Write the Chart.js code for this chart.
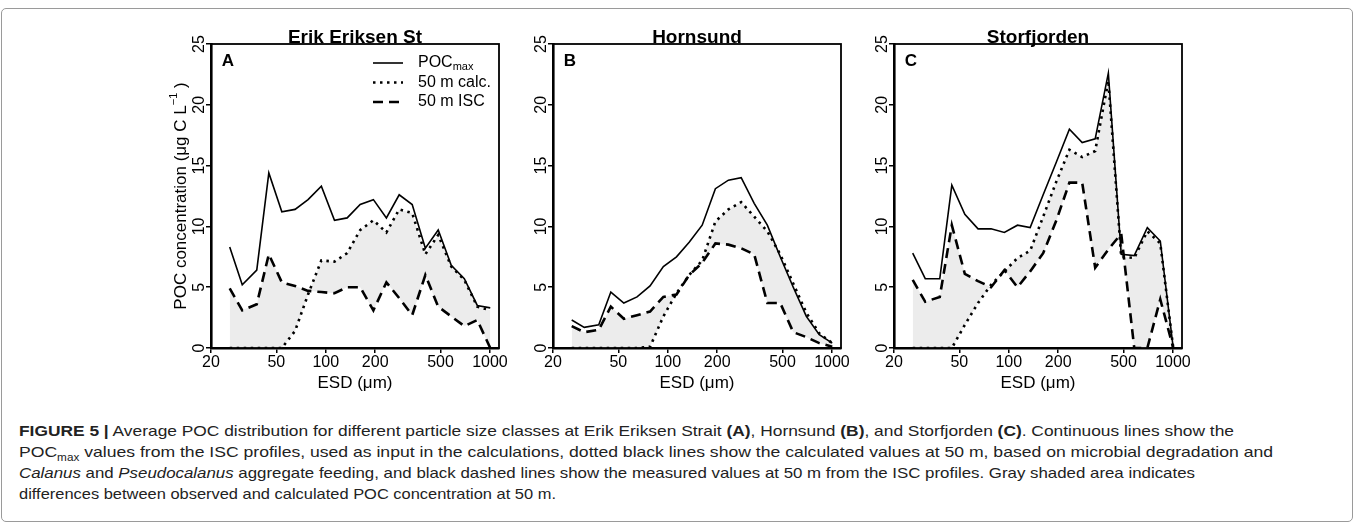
<!DOCTYPE html>
<html>
<head>
<meta charset="utf-8">
<script src="https://cdn.jsdelivr.net/npm/chart.js@4"></script>
<style>
  body { margin: 0; background: #fff; font-family: "Liberation Sans", Arial, sans-serif; }
  #page { position: relative; width: 1357px; height: 527px; overflow: hidden; }
  #frame { position: absolute; left: 1px; top: 8px; width: 1350px; height: 512px; border: 1px solid #9a9a9a; border-radius: 5px; }
  .panel { position: absolute; top: 0; width: 378px; height: 400px; }
  .cap { position: absolute; left: 19px; white-space: nowrap; font-size: 15px; line-height: 21px; color: #222; transform-origin: 0 50%; }
</style>
</head>
<body>
<div id="page">
  <div id="frame"></div>
  <div class="panel" style="left:141px"><canvas id="chartA" width="378" height="400"></canvas></div>
  <div class="panel" style="left:483px"><canvas id="chartB" width="378" height="400"></canvas></div>
  <div class="panel" style="left:824px"><canvas id="chartC" width="378" height="400"></canvas></div>
  <div class="cap" id="cap1" style="top:420px"><b>FIGURE 5 |</b> Average POC distribution for different particle size classes at Erik Eriksen Strait <b>(A)</b>, Hornsund <b>(B)</b>, and Storfjorden <b>(C)</b>. Continuous lines show the</div>
  <div class="cap" id="cap2" style="top:441px">POC<sub style="font-size:10px">max</sub> values from the ISC profiles, used as input in the calculations, dotted black lines show the calculated values at 50 m, based on microbial degradation and</div>
  <div class="cap" id="cap3" style="top:462px"><i>Calanus</i> and <i>Pseudocalanus</i> aggregate feeding, and black dashed lines show the measured values at 50 m from the ISC profiles. Gray shaded area indicates</div>
  <div class="cap" id="cap4" style="top:483px">differences between observed and calculated POC concentration at 50 m.</div>
</div>
<script>
// particle size classes (ESD, um)
const esd = [26, 31, 38, 45, 54, 65, 78, 94, 113, 135, 162, 195, 234, 280, 336, 404, 484, 581, 698, 837, 1004];
const xTicks = [20, 50, 100, 200, 500, 1000];
const yTicks = [0, 5, 10, 15, 20, 25];

// Erik Eriksen St
const pocMaxA = [8.3, 5.2, 6.4, 14.4, 11.2, 11.4, 12.2, 13.3, 10.5, 10.7, 11.8, 12.2, 10.7, 12.6, 11.8, 8.2, 9.7, 6.8, 5.7, 3.5, 3.3];
const calcA   = [0, 0, 0, 0, 0, 1.4, 4.4, 7.2, 7.1, 7.8, 9.7, 10.5, 9.5, 11.4, 11.1, 7.7, 9.3, 6.7, 5.6, 3.4, 3.1];
const iscA    = [4.9, 3.1, 3.6, 7.7, 5.4, 5.1, 4.7, 4.6, 4.5, 5.0, 5.0, 3.1, 5.4, 4.1, 2.7, 6.0, 3.4, 2.6, 1.8, 2.3, 0];

// Hornsund
const pocMaxB = [2.3, 1.7, 1.9, 4.6, 3.7, 4.2, 5.1, 6.7, 7.5, 8.7, 10.1, 13.1, 13.8, 14.0, 11.9, 10.1, 7.5, 5.0, 2.6, 1.1, 0.4];
const calcB   = [0, 0, 0, 0, 0, 0, 0.1, 2.6, 4.5, 6.0, 7.2, 10.4, 11.4, 12.0, 10.8, 9.6, 7.7, 5.3, 2.9, 1.2, 0.4];
const iscB    = [1.8, 1.3, 1.5, 3.4, 2.4, 2.7, 3.0, 4.2, 4.4, 6.0, 7.0, 8.6, 8.5, 8.2, 7.7, 3.7, 3.7, 1.3, 0.9, 0.4, 0.1];

// Storfjorden
const pocMaxC = [7.8, 5.7, 5.7, 13.4, 11.0, 9.8, 9.8, 9.5, 10.1, 9.9, 12.6, 15.3, 18.0, 16.9, 17.2, 22.6, 7.7, 7.6, 9.9, 8.8, 0];
const calcC   = [0, 0, 0, 0, 1.9, 3.7, 5.2, 6.3, 7.4, 8.0, 10.8, 13.7, 16.3, 15.7, 16.2, 22.0, 7.5, 7.4, 9.6, 8.6, 0];
const iscC    = [5.6, 3.8, 4.2, 10.1, 6.1, 5.5, 5.0, 6.4, 5.0, 6.3, 7.8, 10.5, 13.6, 13.6, 6.6, 8.1, 9.4, 0, 0, 4.0, 0];

const seriesLabels = ["POCmax", "50 m calc.", "50 m ISC"];

const FONT = '"Liberation Sans", Arial, sans-serif';
const pts = (ys) => esd.map((x, i) => ({ x: x, y: ys[i] }));

const decorPlugin = {
  id: "decor",
  afterDraw(chart) {
    const o = chart.options.plugins.decor;
    const ctx = chart.ctx;
    const a = chart.chartArea;
    const ys = chart.scales.y;
    ctx.save();
    ctx.fillStyle = "#000";
    ctx.strokeStyle = "#000";

    // box
    ctx.lineWidth = 1.8;
    ctx.strokeRect(a.left, a.top, a.right - a.left, a.bottom - a.top);

    // y tick labels, R style
    ctx.font = "16px " + FONT;
    ctx.textAlign = "center";
    ctx.textBaseline = "middle";
    ys.ticks.forEach(t => {
      const py = ys.getPixelForValue(t.value);
      ctx.save();
      ctx.translate(a.left - 12, py);
      ctx.rotate(-Math.PI / 2);
      ctx.fillText(String(t.value), 0, 1);
      ctx.restore();
    });

    // title and panel letter
    ctx.font = "bold 19px " + FONT;
    ctx.textBaseline = "alphabetic";
    ctx.fillText(o.title, (a.left + a.right) / 2, a.top - 1);
    ctx.font = "bold 17px " + FONT;
    ctx.textBaseline = "middle";
    ctx.fillText(o.letter, a.left + 17, a.top + 17);

    // x axis title
    ctx.font = "17px " + FONT;
    ctx.fillText("ESD (\u03bcm)", (a.left + a.right) / 2, a.bottom + 35);

    if (o.yTitle) {
      ctx.save();
      ctx.translate(a.left - 31, (a.top + a.bottom) / 2);
      ctx.rotate(-Math.PI / 2);
      const p1 = "POC concentration (\u03bcg C L", p2 = "\u22121", p3 = " )";
      ctx.font = "17px " + FONT;
      const w1 = ctx.measureText(p1).width, w3 = ctx.measureText(p3).width;
      ctx.font = "11px " + FONT;
      const w2 = ctx.measureText(p2).width;
      let x = -(w1 + w2 + w3) / 2;
      ctx.textAlign = "left";
      ctx.font = "17px " + FONT;
      ctx.fillText(p1, x, 1);
      x += w1;
      ctx.font = "11px " + FONT;
      ctx.fillText(p2, x, -6);
      x += w2;
      ctx.font = "17px " + FONT;
      ctx.fillText(p3, x, 1);
      ctx.restore();
    }

    if (o.legend) {
      ctx.textAlign = "left";
      chart.data.datasets.forEach((ds, i) => {
        const y = a.top + 19 + i * 19.5;
        ctx.beginPath();
        ctx.lineWidth = ds.borderWidth;
        ctx.setLineDash(ds.borderDash || []);
        ctx.moveTo(a.left + 162, y);
        ctx.lineTo(a.left + 192, y);
        ctx.stroke();
        ctx.setLineDash([]);
        ctx.font = "16px " + FONT;
        if (ds.label === "POCmax") {
          ctx.fillText("POC", a.left + 207, y);
          const w = ctx.measureText("POC").width;
          ctx.font = "11px " + FONT;
          ctx.fillText("max", a.left + 207 + w, y + 4);
        } else {
          ctx.fillText(ds.label, a.left + 207, y);
        }
      });
    }
    ctx.restore();
  }
};

function makePanel(id, title, letter, maxVals, calcVals, iscVals, showLegend, showYTitle) {
  return new Chart(document.getElementById(id), {
    type: "line",
    data: {
      datasets: [
        { label: seriesLabels[0], data: pts(maxVals), borderColor: "#000", borderWidth: 1.6, fill: false },
        { label: seriesLabels[1], data: pts(calcVals), borderColor: "#000", borderWidth: 2.6, borderDash: [2.5, 4.5], fill: false },
        { label: seriesLabels[2], data: pts(iscVals), borderColor: "#000", borderWidth: 2.6, borderDash: [10, 6],
          fill: { target: 1 }, backgroundColor: "#ececec" }
      ]
    },
    options: {
      responsive: false,
      animation: false,
      events: [],
      layout: { padding: { left: 0, top: 44, right: 20, bottom: 0 } },
      elements: { point: { radius: 0 }, line: { tension: 0 } },
      scales: {
        x: {
          type: "logarithmic",
          min: 20,
          max: 1135,
          afterBuildTicks: s => { s.ticks = xTicks.map(v => ({ value: v })); },
          afterFit: s => { s.height = 52; },
          ticks: { callback: v => String(v), color: "#000", font: { size: 16, family: FONT }, padding: 0, maxRotation: 0, autoSkip: false },
          grid: { drawOnChartArea: false, drawTicks: true, tickLength: 5, color: "#000", lineWidth: 1.5 },
          border: { display: true, color: "#000", width: 2.6 }
        },
        y: {
          min: 0,
          max: 25,
          afterBuildTicks: s => { s.ticks = yTicks.map(v => ({ value: v })); },
          afterFit: s => { s.width = 70; },
          ticks: { display: false },
          grid: { drawOnChartArea: false, drawTicks: true, tickLength: 5, color: "#000", lineWidth: 1.5 },
          border: { display: true, color: "#000", width: 2.6 }
        }
      },
      plugins: {
        legend: { display: false },
        tooltip: { enabled: false },
        decor: { title: title, letter: letter, legend: showLegend, yTitle: showYTitle }
      }
    },
    plugins: [decorPlugin]
  });
}

makePanel("chartA", "Erik Eriksen St", "A", pocMaxA, calcA, iscA, true, true);
makePanel("chartB", "Hornsund", "B", pocMaxB, calcB, iscB, false, false);
makePanel("chartC", "Storfjorden", "C", pocMaxC, calcC, iscC, false, false);

// fit caption lines to the measured widths
const capWidths = { cap1: 1215, cap2: 1254, cap3: 1176, cap4: 537 };
["cap1", "cap2", "cap3", "cap4"].forEach(id => {
  const el = document.getElementById(id);
  const w = el.getBoundingClientRect().width;
  el.style.transform = "scaleX(" + (capWidths[id] / w).toFixed(4) + ")";
});
</script>
</body>
</html>
